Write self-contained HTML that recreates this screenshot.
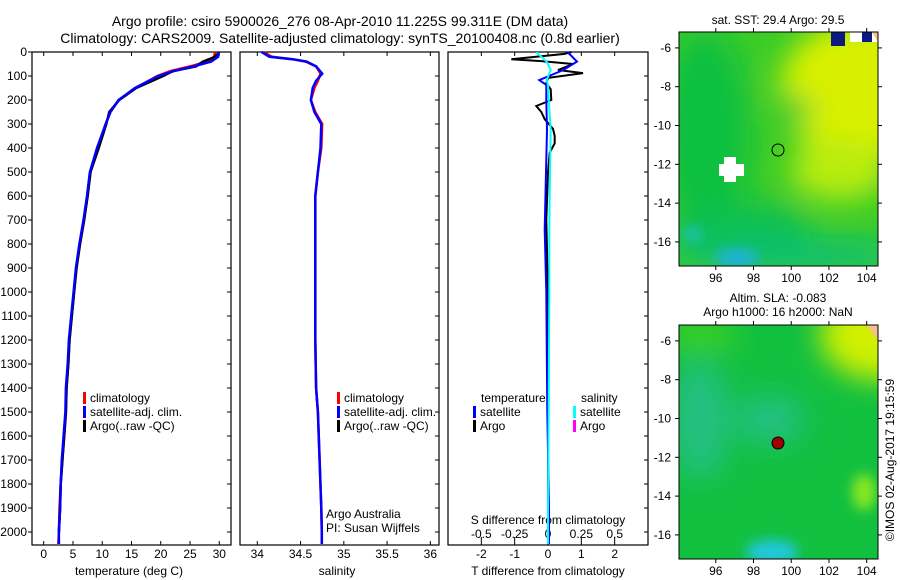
<!DOCTYPE html>
<html><head><meta charset="utf-8"><style>
body{margin:0;background:#fff}
svg{display:block;font-family:"Liberation Sans",sans-serif}
text{font-size:12px;fill:#000}
</style></head><body>
<svg id="fig" width="900" height="580" viewBox="0 0 900 580" xmlns="http://www.w3.org/2000/svg">
<defs>
<filter id="blur" x="-50%" y="-50%" width="200%" height="200%"><feGaussianBlur stdDeviation="14"/></filter>
<filter id="blur2" x="-50%" y="-50%" width="200%" height="200%"><feGaussianBlur stdDeviation="6"/></filter>
<clipPath id="clipTop"><rect x="679" y="32" width="199" height="234"/></clipPath>
<clipPath id="clipBot"><rect x="679" y="325" width="199" height="234"/></clipPath>
</defs>
<text x="340" y="26" text-anchor="middle" style="font-size:14px">Argo profile: csiro 5900026_276 08-Apr-2010 11.225S 99.311E (DM data)</text>
<text x="340" y="43" text-anchor="middle" style="font-size:14px">Climatology: CARS2009. Satellite-adjusted climatology: synTS_20100408.nc (0.8d earlier)</text>

<!-- top map -->
<g clip-path="url(#clipTop)">
<rect x="679" y="32" width="199" height="234" fill="#3ccc28"/>
<g filter="url(#blur)">
<ellipse cx="705" cy="130" rx="45" ry="100" fill="#10c040"/>
<ellipse cx="740" cy="230" rx="70" ry="30" fill="#10c050"/>
<ellipse cx="860" cy="90" rx="80" ry="70" fill="#d8f000"/>
<ellipse cx="840" cy="170" rx="50" ry="30" fill="#b8ec10"/>
<ellipse cx="790" cy="255" rx="120" ry="18" fill="#10c070"/>
<ellipse cx="795" cy="110" rx="18" ry="14" fill="#30c830"/>
</g>
<g filter="url(#blur2)">
<ellipse cx="737" cy="258" rx="22" ry="9" fill="#20b0e0"/>
<ellipse cx="693" cy="234" rx="9" ry="7" fill="#20c0c0"/>
</g>
<rect x="724" y="157" width="12" height="25" fill="#fff"/><rect x="719" y="164" width="25" height="12" fill="#fff"/>
<rect x="850" y="32" width="28" height="10" fill="#fff"/>
<rect x="831" y="32" width="14" height="14" fill="#0a1a80"/>
<rect x="862" y="32" width="10" height="10" fill="#0a1a80"/>
<polygon points="872,32 878,32 878,42" fill="#f5c090"/>
<circle cx="778" cy="150" r="6" fill="none" stroke="#000"/>
</g>
<rect x="679" y="32" width="199" height="234" fill="none" stroke="#000"/>
<text x="778" y="24" text-anchor="middle">sat. SST: 29.4  Argo: 29.5</text>

<!-- bottom map -->
<g clip-path="url(#clipBot)">
<rect x="679" y="325" width="199" height="234" fill="#12c040"/>
<g filter="url(#blur)">
<ellipse cx="700" cy="420" rx="30" ry="60" fill="#20c080"/>
<ellipse cx="770" cy="420" rx="35" ry="25" fill="#20c080"/>
<ellipse cx="880" cy="335" rx="60" ry="45" fill="#d0f000"/>
<ellipse cx="700" cy="335" rx="40" ry="15" fill="#40d020"/>
</g>
<g filter="url(#blur2)">
<ellipse cx="772" cy="552" rx="26" ry="12" fill="#20c8e0"/>
<ellipse cx="864" cy="492" rx="12" ry="18" fill="#88e820"/>
</g>
<polygon points="866,325 878,325 878,340" fill="#f5c090"/>
<circle cx="778" cy="443" r="6" fill="#a00000" stroke="#000"/>
</g>
<rect x="679" y="325" width="199" height="234" fill="none" stroke="#000"/>
<text x="778" y="302" text-anchor="middle">Altim. SLA: -0.083</text>
<text x="778" y="316" text-anchor="middle">Argo h1000: 16 h2000: NaN</text>
<text transform="translate(894,460) rotate(-90)" text-anchor="middle">©IMOS 02-Aug-2017 19:15:59</text>

<g id="plots"></g>
</svg>
<script>
// ---- data ----
const tDepth = [0,20,40,60,80,100,150,200,250,300,400,500,600,700,800,900,1000,1100,1200,1300,1400,1500,1600,1700,1800,1900,2000,2050];
const tClim  = [29.3,29.1,28.0,25.0,21.6,19.4,15.7,12.8,11.4,10.6,9.2,8.0,7.5,6.9,6.2,5.6,5.2,4.8,4.4,4.2,3.9,3.8,3.5,3.2,2.9,2.7,2.6,2.5];
const tSat   = [29.9,29.8,28.6,25.6,22.2,19.6,15.6,12.8,11.4,10.6,9.1,7.9,7.4,6.8,6.1,5.5,5.1,4.7,4.3,4.1,3.8,3.7,3.4,3.1,2.9,2.8,2.6,2.6];
const tArgo  = [30.0,29.3,27.2,26.0,22.0,20.4,15.8,12.9,11.2,10.7,9.4,8.0,7.5,6.9,6.2,5.6,5.2,4.8,4.4,4.2,3.9,3.8,3.5,3.2,2.9,2.8,2.6];
const sDepth = [0,20,30,40,60,90,120,150,200,250,300,400,500,600,800,1000,1200,1400,1500,1700,1900,2000,2050];
const sClim  = [34.07,34.17,34.40,34.56,34.68,34.73,34.70,34.66,34.62,34.67,34.75,34.74,34.70,34.67,34.67,34.67,34.67,34.68,34.70,34.72,34.74,34.745,34.745];
const sSat   = [34.05,34.14,34.41,34.57,34.68,34.75,34.68,34.64,34.62,34.66,34.74,34.73,34.70,34.67,34.67,34.67,34.67,34.68,34.70,34.72,34.74,34.745,34.745];
const dDepth = [0,5,40,75,117,137,200,325,500,740,1000,1500,1900,2050];
const dTsat  = [0.6,0.62,0.87,0.46,-0.26,-0.05,-0.05,-0.03,-0.06,-0.1,-0.05,-0.02,0.03,0.03];
const dSsat  = [-0.08,-0.08,-0.01,0.02,-0.01,0.0,0.005,0.02,0.015,0.01,0.01,0.005,0.0,0.0];
const aDepth = [0,8,30,38,50,75,88,108,130,155,200,225,250,280,320,350,380,420,500,700,1000,1500,2000];
const aTdiff = [0.7,0.5,-1.1,-0.2,0.75,0.3,1.05,0.0,-0.05,0.08,0.1,-0.35,-0.2,-0.1,0.15,0.2,0.2,0.05,0.0,-0.05,0.0,0.0,0.0];
const depthTicks = [0,100,200,300,400,500,600,700,800,900,1000,1100,1200,1300,1400,1500,1600,1700,1800,1900,2000];
const tTicks = [0,5,10,15,20,25,30];
const sTicks = [34,34.5,35,35.5,36];
const sTickLabels = ["34","34.5","35","35.5","36"];
const dTicks = [-2,-1,0,1,2];
const dsTicks = [-0.5,-0.25,0,0.25,0.5];
const dsTickLabels = ["-0.5","-0.25","0","0.25","0.5"];
const mapLonTicks = [96,98,100,102,104];
const mapLatTicks = [-6,-8,-10,-12,-14,-16];

// ---- scales ----
const TOP=52, BOT=545;
const yD = d => TOP + d*0.24;
const lin = (d0,d1,r0,r1) => v => r0 + (v-d0)/(d1-d0)*(r1-r0);
const xT = lin(-2,32,32,231);
const xS = lin(33.8,36.1,240,439);
const xD = lin(-3,3,448,648);
const xDS = v => xD(v*4);
const NS='http://www.w3.org/2000/svg';
const G=document.getElementById('plots');
function el(tag,attrs,parent){const e=document.createElementNS(NS,tag);for(const k in attrs)e.setAttribute(k,attrs[k]);(parent||G).appendChild(e);return e;}
function txt(x,y,s,anchor,parent){const t=el('text',{x:x,y:y,'text-anchor':anchor||'middle'},parent);t.textContent=s;return t;}
function line(xs,ds,xf,color,w,name){
  const pts=xs.map((v,i)=>xf(v).toFixed(1)+','+yD(ds[i]).toFixed(1)).join(' ');
  const p=el('polyline',{points:pts,fill:'none',stroke:color,'stroke-width':w});
  
  
}
function frame(x0,x1,name){
  const r=el('rect',{x:x0,y:TOP,width:x1-x0,height:BOT-TOP,fill:'none',stroke:'#000','stroke-width':1.2});
  
  
  depthTicks.forEach(d=>{el('line',{x1:x1-4,x2:x1,y1:yD(d),y2:yD(d),stroke:'#000'});});
}
function xticks(ticks,labels,xf,y0,ly){
  ticks.forEach((v,i)=>{
    el('line',{x1:xf(v),x2:xf(v),y1:TOP,y2:TOP+4,stroke:'#000'});
    el('line',{x1:xf(v),x2:xf(v),y1:y0,y2:y0-4,stroke:'#000'});
    const t=txt(xf(v),ly,labels?labels[i]:String(v));
    
    
  });
}
// panel 1
frame(32,231,'temperature-panel');
depthTicks.forEach(d=>{el('line',{x1:28,x2:32,y1:yD(d),y2:yD(d),stroke:'#000'});
  const t=txt(27,yD(d)+4,String(d),'end');
  
  });
xticks(tTicks,null,xT,BOT,558);
line(tClim,tDepth,xT,'#ff0000',2.5,'temp-climatology-line');
line(tArgo,tDepth,xT,'#000',2.5,'temp-argo-line');
line(tSat,tDepth,xT,'#0000ff',2.5,'temp-satellite-line');
txt(129,575,'temperature (deg C)');
// panel 2
frame(240,439,'salinity-panel');
xticks(sTicks,sTickLabels,xS,BOT,558);
line(sClim,sDepth,xS,'#ff0000',2.5,'sal-climatology-line');
line(sSat,sDepth,xS,'#0000ff',2.5,'sal-satellite-line');
txt(337,575,'salinity');
txt(326,518,'Argo Australia','start');
txt(326,532,'PI: Susan Wijffels','start');
// panel 3
frame(448,648,'difference-panel');
xticks(dTicks,null,xD,BOT,558);
dsTicks.forEach((v,i)=>{el('line',{x1:xDS(v),x2:xDS(v),y1:BOT-4,y2:BOT-8,stroke:'#000'});
  const t=txt(xDS(v),538,dsTickLabels[i]);
  
  });
txt(548,524,'S difference from climatology');
txt(548,575,'T difference from climatology');
line(aTdiff,aDepth,xD,'#000',2,'argo-tdiff-line');
line(dTsat,dDepth,xD,'#0000ff',2,'sat-tdiff-line');
line(dSsat,dDepth,xDS,'#00ffff',2,'sat-sdiff-line');
// legends
function leg(x,y,color,label,name){
  if(color) el('rect',{x:x,y:y-10,width:3,height:12,fill:color});
  const t=txt(x+(color?7:0),y,label,'start');
  
  
}
leg(83,402,'#ff0000','climatology','legend-climatology');
leg(83,416,'#0000ff','satellite-adj. clim.','legend-satellite');
leg(83,430,'#000','Argo(..raw -QC)','legend-argo');
leg(337,402,'#ff0000','climatology','legend2-climatology');
leg(337,416,'#0000ff','satellite-adj. clim.','legend2-satellite');
leg(337,430,'#000','Argo(..raw -QC)','legend2-argo');
leg(481,402,null,'temperature','legend3-temperature');
leg(473,416,'#0000ff','satellite','legend3-t-satellite');
leg(473,430,'#000','Argo','legend3-t-argo');
leg(581,402,null,'salinity','legend3-salinity');
leg(573,416,'#00ffff','satellite','legend3-s-satellite');
leg(573,430,'#ff00ff','Argo','legend3-s-argo');
// map axes
const mx = lin(94.05,104.6,679,878);
const myTop = v => 32 + (-5.18 - v)*19.4;
[[32,266,0],[325,559,293]].forEach(([t,b,off])=>{
  mapLonTicks.forEach(v=>{el('line',{x1:mx(v),x2:mx(v),y1:t,y2:t-4,stroke:'#000'});
    el('line',{x1:mx(v),x2:mx(v),y1:b,y2:b+4,stroke:'#000'});
    const l=txt(mx(v),b+16,String(v));
    
    });
  mapLatTicks.forEach(v=>{const y=myTop(v)+off;
    el('line',{x1:675,x2:679,y1:y,y2:y,stroke:'#000'});
    el('line',{x1:878,x2:882,y1:y,y2:y,stroke:'#000'});
    const l=txt(671,y+4,String(v),'end');
    
    });
});
</script>
</body></html>
